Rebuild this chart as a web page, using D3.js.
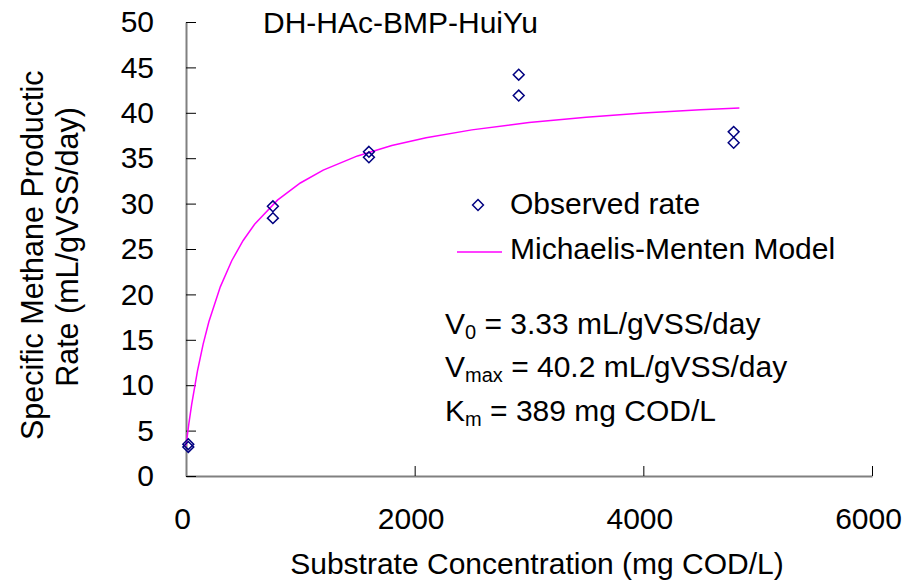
<!DOCTYPE html>
<html>
<head>
<meta charset="utf-8">
<script src="https://cdn.jsdelivr.net/npm/d3@7"></script>
<style>
  body { margin: 0; background: #fff; }
  text { font-family: "Liberation Sans", Arial, sans-serif; fill: #000; }
</style>
</head>
<body>
<div id="app"></div>
<script>
// Observed rates (two replicates per concentration)
const obsConc = [20, 20, 760, 760, 1600, 1600, 2910, 2910, 4790, 4790];
const obsRate = [3.2, 3.5, 29.7, 28.4, 35.7, 35.1, 44.2, 41.9, 37.9, 36.7];

// Michaelis-Menten model curve
const modelConc = [0, 25, 50, 100, 150, 200, 300, 400, 500, 600, 800, 1000, 1200, 1500, 1800, 2100, 2500, 3000, 3500, 4000, 4500, 4840];
const modelRate = [3.33, 5.76, 7.91, 11.55, 14.52, 16.98, 20.83, 23.71, 25.94, 27.72, 30.38, 32.27, 33.69, 35.25, 36.39, 37.25, 38.12, 38.92, 39.51, 39.97, 40.33, 40.54];

const xTicks = [0, 2000, 4000, 6000];
const yTicks = [0, 5, 10, 15, 20, 25, 30, 35, 40, 45, 50];

const width = 914;
const height = 582;
const fontSize = 30;

const svg = d3
  .select("#app")
  .append("svg")
  .attr("width", width)
  .attr("height", height)
  .style("display", "block");

svg.append("rect").attr("width", width).attr("height", height).attr("fill", "#fff");

const xScale = d3.scaleLinear().domain([0, 6000]).range([186, 872]);
const yScale = d3.scaleLinear().domain([0, 50]).range([476, 22]);

// Axes (ticks point inward, like the Excel chart)
const xAxis = d3
  .axisBottom(xScale)
  .tickValues(xTicks)
  .tickFormat(d3.format("d"))
  .tickSizeInner(-10)
  .tickSizeOuter(0)
  .tickPadding(32);
const yAxis = d3
  .axisLeft(yScale)
  .tickValues(yTicks)
  .tickFormat(d3.format("d"))
  .tickSizeInner(-10)
  .tickSizeOuter(0)
  .tickPadding(32);

const gx = svg.append("g").attr("transform", `translate(0, ${yScale(0)})`).call(xAxis);
const gy = svg.append("g").attr("transform", `translate(${xScale(0)}, 0)`).call(yAxis);

[gx, gy].forEach(g => {
  g.select(".domain").attr("stroke", "#808080").attr("stroke-width", 2);
  g.selectAll(".tick line").attr("stroke", "#000").attr("stroke-width", 1);
  g.selectAll(".tick text").attr("font-size", fontSize).attr("font-family", null).attr("fill", "#000");
});
gx.selectAll(".tick text").attr("dx", -4);

// Model curve
const line = d3.line().x(d => xScale(d[0])).y(d => yScale(d[1]));
svg
  .append("path")
  .datum(modelConc.map((c, i) => [c, modelRate[i]]))
  .attr("d", line)
  .attr("fill", "none")
  .attr("stroke", "#ff00ff")
  .attr("stroke-width", 1.5);

// Observed points as hollow diamonds
const diamond = d3.symbol().type(d3.symbolDiamond2).size(75);
svg
  .selectAll(".obs")
  .data(obsConc.map((c, i) => [c, obsRate[i]]))
  .enter()
  .append("path")
  .attr("class", "obs")
  .attr("d", diamond)
  .attr("transform", d => `translate(${xScale(d[0])}, ${yScale(d[1])})`)
  .attr("fill", "none")
  .attr("stroke", "#000080")
  .attr("stroke-width", 1.5);

// Title
svg.append("text").text("DH-HAc-BMP-HuiYu").attr("x", 263).attr("y", 33).attr("font-size", fontSize);

// Axis titles
svg
  .append("text")
  .text("Substrate Concentration (mg COD/L)")
  .attr("x", 537)
  .attr("y", 574)
  .attr("text-anchor", "middle")
  .attr("font-size", fontSize);

svg
  .append("text")
  .text("Specific Methane Productic")
  .attr("transform", "translate(43, 440) rotate(-90)")
  .attr("font-size", 30.5);

svg
  .append("text")
  .text("Rate (mL/gVSS/day)")
  .attr("transform", "translate(78, 247) rotate(-90)")
  .attr("text-anchor", "middle")
  .attr("font-size", 30.5);

// Legend
const legend = svg.append("g");
legend
  .append("path")
  .attr("d", diamond)
  .attr("transform", "translate(478, 205)")
  .attr("fill", "none")
  .attr("stroke", "#000080")
  .attr("stroke-width", 1.5);
legend.append("text").text("Observed rate").attr("x", 510).attr("y", 214).attr("font-size", fontSize);
legend
  .append("line")
  .attr("x1", 457)
  .attr("x2", 502)
  .attr("y1", 252)
  .attr("y2", 252)
  .attr("stroke", "#ff00ff")
  .attr("stroke-width", 1.5);
legend.append("text").text("Michaelis-Menten Model").attr("x", 510).attr("y", 259).attr("font-size", fontSize);

// Model parameters
const params = [
  { main: "V", sub: "0", rest: " = 3.33 mL/gVSS/day", y: 334 },
  { main: "V", sub: "max", rest: " = 40.2 mL/gVSS/day", y: 377 },
  { main: "K", sub: "m", rest: " = 389 mg COD/L", y: 421 }
];
params.forEach(p => {
  const t = svg.append("text").attr("x", 445).attr("y", p.y).attr("font-size", fontSize);
  t.append("tspan").text(p.main);
  t.append("tspan").text(p.sub).attr("font-size", 20).attr("dy", 5);
  t.append("tspan").text(p.rest).attr("dy", -5);
});
</script>
</body>
</html>
